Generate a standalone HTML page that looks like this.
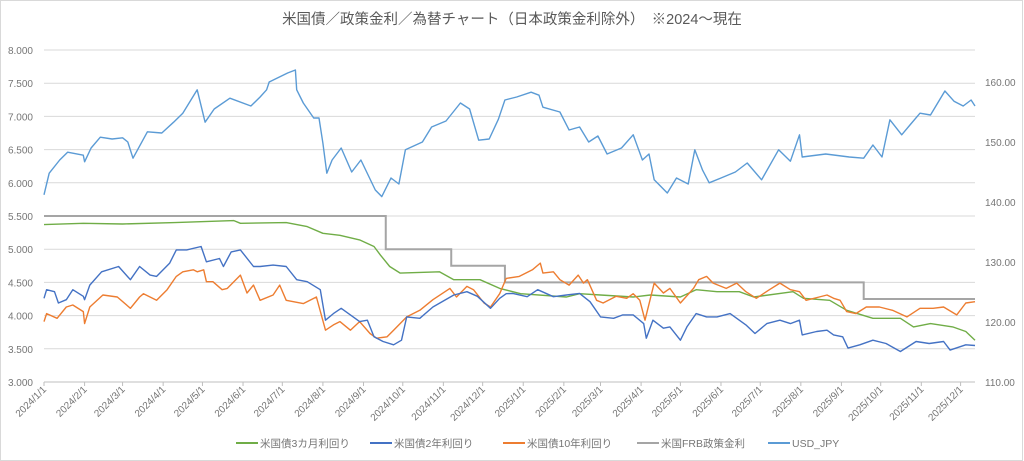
<!DOCTYPE html>
<html><head><meta charset="utf-8">
<style>
html,body{margin:0;padding:0;background:#fff;}
svg{display:block;font-family:"Liberation Sans","Noto Sans CJK JP",sans-serif;}
</style></head>
<body>
<svg id="chart" width="1024" height="461" viewBox="0 0 1024 461" xmlns="http://www.w3.org/2000/svg">
<rect x="0.5" y="0.5" width="1022" height="460" fill="#fff" stroke="#d9d9d9"/>
<text x="512" y="24" text-anchor="middle" font-size="14.5" fill="#595959">米国債／政策金利／為替チャート（日本政策金利除外）　※2024～現在</text>
<g id="grid"></g>
<g id="yleft"></g>
<g id="yright"></g>
<g id="xaxis"></g>
<g id="series"></g>
<g id="legend"></g>
</svg>
<script>
// ---- data ----
const leftTicks = [3.0,3.5,4.0,4.5,5.0,5.5,6.0,6.5,7.0,7.5,8.0];
const rightTicks = [110,120,130,140,150,160];
const monthLabels = ["2024/1/1","2024/2/1","2024/3/1","2024/4/1","2024/5/1","2024/6/1","2024/7/1","2024/8/1","2024/9/1","2024/10/1","2024/11/1","2024/12/1","2025/1/1","2025/2/1","2025/3/1","2025/4/1","2025/5/1","2025/6/1","2025/7/1","2025/8/1","2025/9/1","2025/10/1","2025/11/1","2025/12/1"];
// days since 2024-01-01
const t3mDays = [0,30,60,100,145,150,185,201,213,226,241,252,257,264,272,302,313,333,348,364,399,409,425,450,463,486,498,514,531,542,572,580,600,613,633,654,664,677,694,704,711];
const t3mVals = [5.37,5.39,5.38,5.40,5.43,5.39,5.40,5.34,5.24,5.21,5.14,5.04,4.91,4.74,4.64,4.66,4.54,4.54,4.41,4.33,4.28,4.33,4.31,4.28,4.31,4.28,4.39,4.36,4.36,4.28,4.36,4.26,4.23,4.08,3.96,3.96,3.83,3.88,3.83,3.76,3.63];
const t2yDays = [0,2,8,11,17,22,30,31,35,44,57,66,73,81,86,96,101,109,120,124,134,137,143,150,160,165,175,185,193,201,211,215,221,227,234,241,247,252,259,267,273,277,287,297,313,323,331,341,348,353,358,369,377,389,399,409,417,425,435,442,450,458,460,465,473,478,486,491,498,506,514,524,536,543,552,562,570,577,579,590,598,603,610,614,623,633,643,654,666,676,687,692,704,711];
const t2yVals = [4.26,4.39,4.36,4.19,4.24,4.39,4.29,4.24,4.46,4.66,4.74,4.54,4.74,4.61,4.59,4.79,4.99,4.99,5.04,4.81,4.86,4.74,4.96,4.99,4.74,4.74,4.76,4.74,4.54,4.51,4.39,3.93,4.03,4.11,4.01,3.91,3.93,3.68,3.61,3.56,3.63,3.98,3.96,4.13,4.31,4.36,4.29,4.11,4.26,4.33,4.335,4.285,4.39,4.285,4.31,4.335,4.21,3.98,3.96,4.01,4.01,3.88,3.66,3.93,3.81,3.83,3.63,3.83,4.03,3.98,3.98,4.03,3.86,3.73,3.88,3.93,3.88,3.93,3.71,3.76,3.78,3.71,3.68,3.51,3.56,3.63,3.58,3.46,3.61,3.58,3.61,3.48,3.56,3.55];
const t10yDays = [0,2,10,17,22,30,31,35,45,56,66,73,76,86,94,101,106,114,117,122,124,129,136,140,150,155,160,165,175,180,185,198,208,215,221,226,234,241,249,254,262,267,277,287,297,310,315,323,328,336,341,348,353,363,373,379,381,389,394,401,408,412,415,422,427,437,445,450,455,459,466,473,478,486,496,500,506,511,521,529,536,544,554,562,570,577,582,592,598,603,608,613,620,628,638,648,659,669,679,687,697,704,711];
const t10yVals = [3.91,4.03,3.96,4.13,4.16,4.06,3.88,4.13,4.31,4.28,4.11,4.28,4.33,4.23,4.39,4.59,4.66,4.69,4.66,4.69,4.51,4.51,4.39,4.41,4.61,4.34,4.46,4.23,4.31,4.46,4.23,4.18,4.28,3.78,3.86,3.91,3.78,3.91,3.73,3.66,3.68,3.78,3.98,4.08,4.24,4.41,4.28,4.44,4.39,4.19,4.13,4.33,4.56,4.59,4.69,4.79,4.64,4.66,4.54,4.46,4.61,4.49,4.54,4.23,4.19,4.29,4.26,4.33,4.23,3.93,4.49,4.34,4.41,4.19,4.41,4.54,4.59,4.49,4.41,4.49,4.36,4.26,4.39,4.49,4.39,4.36,4.23,4.28,4.31,4.26,4.23,4.06,4.03,4.13,4.13,4.08,3.98,4.11,4.11,4.13,4.01,4.19,4.21];
const frbDays = [0,261,311,352,626,711];
const frbVals = [5.5,5.0,4.75,4.5,4.25];
const fxDays = [0,4,12,18,30,31,36,43,52,60,64,68,79,90,99,106,117,123,130,142,158,165,170,172,186,192,193,198,206,210,213,216,220,227,235,242,253,258,265,271,276,289,296,307,318,325,332,340,347,352,361,372,378,381,394,401,409,416,423,430,441,450,457,462,466,476,483,492,497,503,508,517,528,537,548,561,570,577,579,597,615,626,633,640,646,655,662,669,677,688,695,702,708,711];
const fxVals = [141.2,144.8,147,148.3,147.8,146.7,149,150.8,150.5,150.7,150,147.3,151.7,151.5,153.3,154.8,158.7,153.3,155.5,157.3,156,157.5,158.7,160,161.5,162,158.7,156.5,154,154,149.8,144.8,147,149,145,147,142,140.9,144,143,148.7,150,152.5,153.5,156.5,155.5,150.3,150.5,153.8,157,157.5,158.3,157.8,155.8,155,152,152.5,150,151,148,149,151.2,147,148,143.7,141.5,144,143,148.7,145.3,143.2,144,145,146.5,143.7,148.7,146.8,151.2,147.5,148,147.5,147.3,149.5,147.5,153.7,151.2,153,154.8,154.5,158.5,156.8,156,157,156];
const legendNames = ["米国債3カ月利回り","米国債2年利回り","米国債10年利回り","米国FRB政策金利","USD_JPY"];
const legendColors = ["#70ad47","#4472c4","#ed7d31","#a5a5a5","#5b9bd5"];

// ---- scales ----
const X0=44, X1=975, DMAX=711, YT=50, YB=382;
const xs = d => X0 + d*(X1-X0)/DMAX;
const yl = v => YB - (v-3)*(YB-YT)/5;
const yr = v => YB - (v-110)*6;
const NS="http://www.w3.org/2000/svg";
function mk(tag, attrs, parent){const e=document.createElementNS(NS,tag);for(const k in attrs)e.setAttribute(k,attrs[k]);parent.appendChild(e);return e;}

const grid=document.getElementById('grid');
leftTicks.forEach(v=>{
  const l=mk('line',{x1:X0,x2:X1,y1:yl(v),y2:yl(v),stroke:v===3?'#bfbfbf':'#d9d9d9','stroke-width':1},grid);
  
  
});
const yL=document.getElementById('yleft');
leftTicks.forEach(v=>{
  const t=mk('text',{x:33,y:yl(v)+4,'text-anchor':'end','font-size':10,fill:'#767676'},yL);
  t.textContent=v.toFixed(3);
  
  
});
const yR=document.getElementById('yright');
rightTicks.forEach(v=>{
  const t=mk('text',{x:985,y:yr(v)+4,'font-size':10,fill:'#767676'},yR);
  t.textContent=v.toFixed(2);
  
  
});
const xa=document.getElementById('xaxis');
const base=Date.UTC(2024,0,1);
monthLabels.forEach(s=>{
  const p=s.split('/').map(Number);
  const d=(Date.UTC(p[0],p[1]-1,p[2])-base)/86400000;
  const x=xs(d);
  const tk=mk('line',{x1:x,x2:x,y1:YB,y2:YB+4,stroke:'#bfbfbf'},xa);
  
  
  const t=mk('text',{x:x+3,y:YB+8,'text-anchor':'end','font-size':10,fill:'#767676',transform:`rotate(-45 ${x+3} ${YB+8})`},xa);
  t.textContent=s;
  
  
});

const ser=document.getElementById('series');
function line(days, vals, ys, color, name){
  const pts=days.map((d,i)=>xs(d).toFixed(1)+','+ys(vals[i]).toFixed(1)).join(' ');
  const p=mk('polyline',{points:pts,fill:'none',stroke:color,'stroke-width':1.4,'stroke-linejoin':'round'},ser);
  
  
}
(function(){
  let pts=[];
  frbVals.forEach((v,i)=>{pts.push(xs(frbDays[i])+','+yl(v));pts.push(xs(frbDays[i+1])+','+yl(v));});
  const p=mk('polyline',{points:pts.join(' '),fill:'none',stroke:'#a5a5a5','stroke-width':2},ser);
  
  
})();
line(fxDays,fxVals,yr,'#5b9bd5','usd-jpy-line');
line(t3mDays,t3mVals,yl,'#70ad47','t3m-yield-line');
line(t10yDays,t10yVals,yl,'#ed7d31','t10y-yield-line');
line(t2yDays,t2yVals,yl,'#4472c4','t2y-yield-line');

const lg=document.getElementById('legend');
const lx=[236,370,503,637,768];
legendNames.forEach((n,i)=>{
  const g=mk('g',{},lg);
  
  
  mk('line',{x1:lx[i],x2:lx[i]+22,y1:443,y2:443,stroke:legendColors[i],'stroke-width':2},g);
  const t=mk('text',{x:lx[i]+24,y:447,'font-size':10.5,fill:'#767676'},g);
  t.textContent=n;
});
</script>
</body></html>
